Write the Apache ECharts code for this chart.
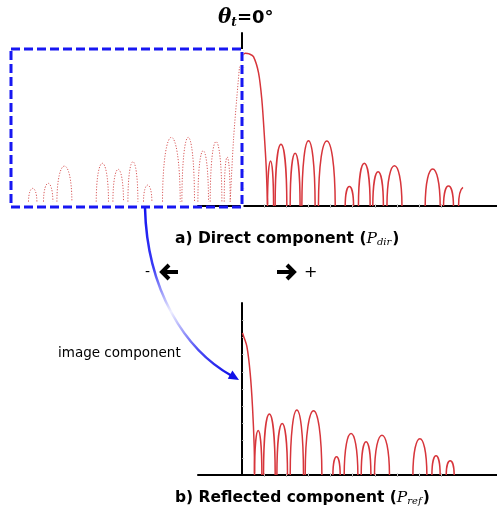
<!DOCTYPE html>
<html>
<head>
<meta charset="utf-8">
<script src="https://cdn.jsdelivr.net/npm/echarts@6/dist/echarts.min.js"></script>
<style>
  html, body { margin: 0; padding: 0; background: #fff; }
  #chart { width: 497px; height: 515px; }
</style>
</head>
<body>
<div id="chart"></div>
<script>
// angle ticks (deg) and amplitude ticks
const angleTicks = [10, 20, 30, 40, 50, 60, 70, 80, 90]
const ampTicks = [0.1, 0.2, 0.3, 0.4, 0.5, 0.6, 0.7, 0.8, 0.9]

// a) direct component: main lobe points
const dirMainX = [0.3, 1.4, 3.2, 5.1, 7.4, 8.9, 9.95, 10.86, 11.45]
const dirMainY = [0.873, 0.883, 0.879, 0.863, 0.769, 0.613, 0.422, 0.225, 0.012]
// a) side lobes: start angle, end angle, peak
const dirLobeStart = [11.45, 14.9, 21.7, 27.0, 34.5, 46.6, 52.6, 59.1, 65.5, 82.8, 91.1, 97.9]
const dirLobeEnd = [14.2, 20.2, 26.2, 33.0, 42.1, 50.4, 57.9, 63.9, 72.3, 89.6, 95.6, 102.9]
const dirLobePeak = [0.26, 0.357, 0.305, 0.377, 0.376, 0.112, 0.247, 0.198, 0.233, 0.214, 0.116, 0.11]
const dirScanEnd = 99.9

// image of the direct component (negative side, dotted)
const imgMainX = [-5.43, -3.94, -2.4, -1.22]
const imgMainY = [0.025, 0.382, 0.632, 0.805]
const imgLobeStart = [-8.14, -14.48, -20.05, -27.29, -36.06, -44.66, -51.72, -58.51, -66.06, -83.85, -89.91, -96.7]
const imgLobeEnd = [-5.43, -9.19, -15.25, -21.58, -28.05, -40.86, -47.19, -53.71, -60.5, -77.06, -85.66, -92.9]
const imgLobePeak = [0.283, 0.372, 0.32, 0.397, 0.397, 0.121, 0.256, 0.212, 0.247, 0.231, 0.131, 0.102]
const imgBase = 0.025

// b) reflected component
const refMainX = [0.14, 0.45, 2.13, 3.62, 4.66, 5.43, 5.57]
const refMainY = [0.826, 0.814, 0.746, 0.591, 0.397, 0.165, 0.01]
const refLobeStart = [5.57, 9.64, 15.7, 21.72, 28.5, 41.04, 46.15, 53.85, 59.86, 77.24, 85.84, 92.31]
const refLobeEnd = [8.91, 14.93, 20.5, 27.74, 36.06, 44.34, 52.35, 58.24, 66.65, 83.57, 89.59, 95.93]
const refLobePeak = [0.258, 0.355, 0.30, 0.378, 0.374, 0.106, 0.242, 0.194, 0.231, 0.211, 0.112, 0.083]

const RED = '#d7353b'
const BLUE = '#1717f2'

const zip = (xs, ys) => xs.map((x, i) => [x, ys[i]])
const lobes = (s, e, p) => s.map((x, i) => [x, e[i], p[i]])

// cut a cubic bezier at a given pixel x (keep left part)
const cutBezier = (pts, cx) => {
  const bx = (t) => {
    const u = 1 - t
    return u * u * u * pts[0][0] + 3 * u * u * t * pts[1][0] + 3 * u * t * t * pts[2][0] + t * t * t * pts[3][0]
  }
  let lo = 0, hi = 1
  for (let k = 0; k < 30; k++) {
    const m = (lo + hi) / 2
    if (bx(m) < cx) lo = m; else hi = m
  }
  const t = lo
  const lerp = (a, b) => [a[0] + (b[0] - a[0]) * t, a[1] + (b[1] - a[1]) * t]
  const a1 = lerp(pts[0], pts[1]), a2 = lerp(pts[1], pts[2]), a3 = lerp(pts[2], pts[3])
  const b1 = lerp(a1, a2), b2 = lerp(a2, a3)
  const c1 = lerp(b1, b2)
  return [pts[0], a1, b1, c1]
}

// one side lobe as an arch
const lobeRenderer = (base, xEnd, style) => (params, api) => {
  const x0 = api.value(0), x1 = api.value(1), h = api.value(2)
  const p0 = api.coord([x0, base])
  const p1 = api.coord([x1, base])
  const pt = api.coord([(x0 + x1) / 2, h])
  const w = p1[0] - p0[0]
  const cy = p0[1] - (p0[1] - pt[1]) * 4 / 3
  let seg = [p0, [p0[0] + w * 0.02, cy], [p1[0] - w * 0.02, cy], p1]
  if (xEnd != null && x1 > xEnd) seg = cutBezier(seg, api.coord([xEnd, 0])[0])
  return {
    type: 'bezierCurve',
    shape: {
      x1: seg[0][0], y1: seg[0][1],
      cpx1: seg[1][0], cpy1: seg[1][1],
      cpx2: seg[2][0], cpy2: seg[2][1],
      x2: seg[3][0], y2: seg[3][1]
    },
    style: Object.assign({ fill: 'none' }, style)
  }
}

const solidStyle = { stroke: RED, lineWidth: 1.5 }
const dotStyle = { stroke: '#d85a5a', lineWidth: 1, lineDash: [1.2, 1.6] }

const makeXAxes = (gridIndex) => [
  {
    gridIndex, type: 'value', min: -20, max: 115.3, position: 'bottom',
    axisLine: { show: true, onZero: false, lineStyle: { color: '#000', width: 2 } },
    axisTick: { show: true, inside: true, length: 2, customValues: angleTicks, lineStyle: { color: '#cfcfcf' } },
    axisLabel: { show: false }, splitLine: { show: false }
  },
  {
    gridIndex, type: 'value', min: -20, max: 115.3, position: 'top',
    axisLine: { show: false },
    axisTick: { show: true, inside: true, length: 2, customValues: angleTicks, lineStyle: { color: '#b5b5b5' } },
    axisLabel: { show: false }, splitLine: { show: false }
  }
]

const makeYAxis = (gridIndex) => ({
  gridIndex, type: 'value', min: 0, max: 1,
  axisLine: { show: true, onZero: true, onZeroAxisIndex: gridIndex * 2, lineStyle: { color: '#000', width: 2 } },
  axisTick: { show: true, inside: true, length: 2, customValues: ampTicks, lineStyle: { color: '#cfcfcf' } },
  axisLabel: { show: false }, splitLine: { show: false }
})

const chart = echarts.init(document.getElementById('chart'))

const textFont = '"DejaVu Sans", sans-serif'

const captionRich = {
  b: { font: 'bold 15.5px ' + textFont, fill: '#000' },
  p: { font: 'italic 15.5px "DejaVu Serif", serif', fill: '#000' },
  s: { font: 'italic 10px "DejaVu Serif", serif', fill: '#000', padding: [7, 1, 0, 0] }
}

const option = {
  animation: false,
  grid: [
    { left: 198, right: 0, top: 33, height: 173 },
    { left: 198, right: 0, top: 303, height: 172 }
  ],
  xAxis: [...makeXAxes(0), ...makeXAxes(1)],
  yAxis: [makeYAxis(0), makeYAxis(1)],
  series: [
    {
      type: 'line', xAxisIndex: 0, yAxisIndex: 0, data: zip(dirMainX, dirMainY),
      smooth: 0.3, symbol: 'none', lineStyle: { color: RED, width: 1.5 }
    },
    {
      type: 'custom', xAxisIndex: 0, yAxisIndex: 0, data: lobes(dirLobeStart, dirLobeEnd, dirLobePeak),
      encode: { x: [0, 1], y: 2 }, renderItem: lobeRenderer(0, dirScanEnd, solidStyle)
    },
    {
      type: 'line', xAxisIndex: 0, yAxisIndex: 0, data: zip(imgMainX, imgMainY),
      smooth: 0.3, symbol: 'none', lineStyle: { color: '#d85a5a', width: 1, type: [1.2, 1.6] }
    },
    {
      type: 'custom', xAxisIndex: 0, yAxisIndex: 0, data: lobes(imgLobeStart, imgLobeEnd, imgLobePeak),
      encode: { x: [0, 1], y: 2 }, clip: false, renderItem: lobeRenderer(imgBase, null, dotStyle)
    },
    {
      type: 'line', xAxisIndex: 2, yAxisIndex: 1, data: zip(refMainX, refMainY),
      smooth: 0.3, symbol: 'none', lineStyle: { color: RED, width: 1.5 }
    },
    {
      type: 'custom', xAxisIndex: 2, yAxisIndex: 1, data: lobes(refLobeStart, refLobeEnd, refLobePeak),
      encode: { x: [0, 1], y: 2 }, renderItem: lobeRenderer(0, null, solidStyle)
    }
  ],
  graphic: [
    // image region box (white backing on the right edge hides the y axis there)
    {
      type: 'line', z: 99, shape: { x1: 242, y1: 49, x2: 242, y2: 207 },
      style: { stroke: '#fff', lineWidth: 3 }
    },
    {
      type: 'rect', z: 100, shape: { x: 11, y: 49, width: 231, height: 158 },
      style: { fill: 'none', stroke: BLUE, lineWidth: 3, lineDash: [9, 4] }
    },
    // curved arrow to the reflected plot
    {
      type: 'bezierCurve', z: 100,
      shape: { x1: 145, y1: 208, cpx1: 147, cpy1: 290, cpx2: 185, cpy2: 350, x2: 232, y2: 376 },
      style: {
        fill: 'none', lineWidth: 2.5,
        stroke: new echarts.graphic.LinearGradient(145, 208, 232, 376, [
          { offset: 0, color: '#1414f0' },
          { offset: 0.3, color: '#3a3af5' },
          { offset: 0.55, color: '#eeeeff' },
          { offset: 0.8, color: '#4a4af5' },
          { offset: 1, color: '#1010e8' }
        ], true)
      }
    },
    {
      type: 'polygon', z: 100,
      shape: { points: [[239, 380], [227.8, 378.8], [232.4, 370.6]] },
      style: { fill: '#1010e8' }
    },
    // sign arrows
    {
      type: 'polyline', shape: { points: [[178, 272], [163, 272]] },
      style: { stroke: '#000', lineWidth: 4, fill: 'none' }
    },
    {
      type: 'polyline', shape: { points: [[169, 265], [162, 272], [169, 279]] },
      style: { stroke: '#000', lineWidth: 4, fill: 'none' }
    },
    {
      type: 'polyline', shape: { points: [[277, 272], [292, 272]] },
      style: { stroke: '#000', lineWidth: 4, fill: 'none' }
    },
    {
      type: 'polyline', shape: { points: [[287, 265], [294, 272], [287, 279]] },
      style: { stroke: '#000', lineWidth: 4, fill: 'none' }
    },
    { type: 'text', x: 145, y: 272, style: { text: '-', font: '14px ' + textFont, fill: '#000', verticalAlign: 'middle' } },
    { type: 'text', x: 304, y: 273, style: { text: '+', font: '16px ' + textFont, fill: '#000', verticalAlign: 'middle' } },
    // labels
    {
      type: 'text', x: 218, y: 18,
      style: {
        text: '{th|θ}{sub|t}{eq|=0°}', verticalAlign: 'middle',
        rich: {
          th: { font: 'italic bold 20px "DejaVu Serif", serif', fill: '#000' },
          sub: { font: 'italic bold 12px "DejaVu Serif", serif', fill: '#000', padding: [10, 0, 0, 0] },
          eq: { font: 'bold 18px ' + textFont, fill: '#000' }
        }
      }
    },
    {
      type: 'text', x: 175, y: 239,
      style: { text: '{b|a) Direct component (}{p|P}{s|dir}{b|)}', verticalAlign: 'middle', rich: captionRich }
    },
    {
      type: 'text', x: 175, y: 498,
      style: { text: '{b|b) Reflected component (}{p|P}{s|ref}{b|)}', verticalAlign: 'middle', rich: captionRich }
    },
    {
      type: 'text', x: 58, y: 353,
      style: { text: 'image component', font: '13.5px ' + textFont, fill: '#000', verticalAlign: 'middle' }
    }
  ]
}

chart.setOption(option)
</script>
</body>
</html>
